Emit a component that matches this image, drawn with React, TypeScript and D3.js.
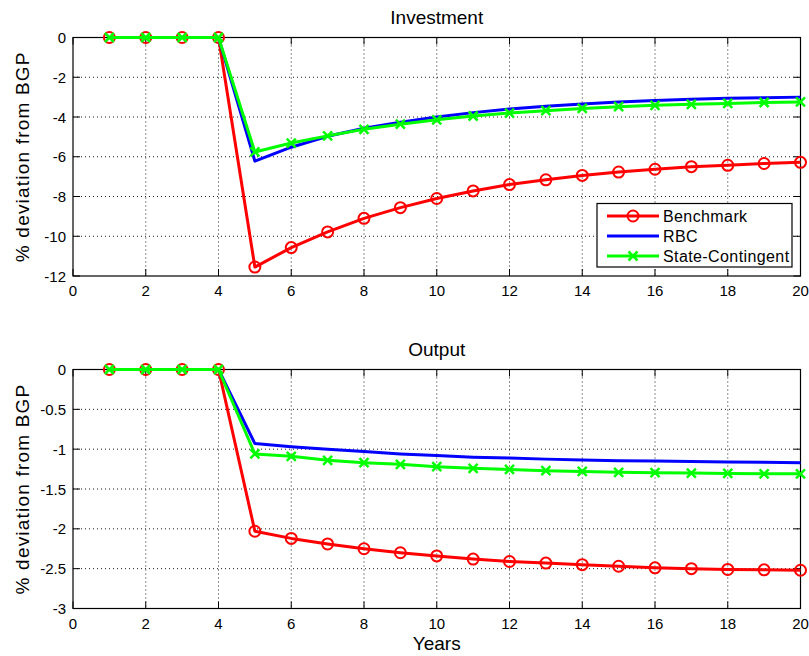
import React from "react";
import * as d3 from "d3";

const years = [1, 2, 3, 4, 5, 6, 7, 8, 9, 10, 11, 12, 13, 14, 15, 16, 17, 18, 19, 20];

const investBenchmark = [0, 0, 0, 0, -11.55, -10.57, -9.78, -9.1, -8.56, -8.1, -7.72, -7.4, -7.16, -6.94, -6.77, -6.63, -6.5, -6.43, -6.34, -6.28];
const investRBC = [0, 0, 0, 0, -6.22, -5.52, -4.97, -4.57, -4.26, -4.0, -3.78, -3.6, -3.46, -3.35, -3.25, -3.17, -3.11, -3.06, -3.03, -3.0];
const investSC = [0, 0, 0, 0, -5.76, -5.31, -4.95, -4.62, -4.36, -4.14, -3.95, -3.8, -3.68, -3.57, -3.48, -3.41, -3.36, -3.32, -3.27, -3.24];

const outputBenchmark = [0, 0, 0, 0, -2.03, -2.12, -2.19, -2.25, -2.3, -2.34, -2.38, -2.41, -2.43, -2.45, -2.47, -2.49, -2.5, -2.51, -2.515, -2.52];
const outputRBC = [0, 0, 0, 0, -0.93, -0.97, -1.0, -1.03, -1.06, -1.08, -1.1, -1.11, -1.125, -1.135, -1.145, -1.15, -1.155, -1.16, -1.165, -1.17];
const outputSC = [0, 0, 0, 0, -1.06, -1.09, -1.14, -1.17, -1.19, -1.22, -1.24, -1.255, -1.27, -1.28, -1.29, -1.295, -1.3, -1.305, -1.31, -1.31];

const xTicks = [0, 2, 4, 6, 8, 10, 12, 14, 16, 18, 20];
const investTicks = [0, -2, -4, -6, -8, -10, -12];
const outputTicks = [0, -0.5, -1, -1.5, -2, -2.5, -3];

const seriesNames = ["Benchmark", "RBC", "State-Contingent"];
const seriesColors = ["#ff0000", "#0000ff", "#00ff00"];
const seriesMarkers = ["circle", "none", "x"];

const FONT = "'Liberation Sans', Arial, Helvetica, sans-serif";
const LEFT = 73;
const RIGHT = 800.5;

function Marker({ type, x, y, color }: { type: string; x: number; y: number; color: string }) {
  if (type === "circle") {
    return <circle cx={x} cy={y} r={5.5} fill="none" stroke={color} strokeWidth={2} />;
  }
  if (type === "x") {
    const s = 4.5;
    return (
      <g stroke={color} strokeWidth={2.5}>
        <line x1={x - s} y1={y - s} x2={x + s} y2={y + s} />
        <line x1={x - s} y1={y + s} x2={x + s} y2={y - s} />
      </g>
    );
  }
  return null;
}

function Panel({
  top,
  bottom,
  domain,
  yTicks,
  series,
  title,
  showLegend,
  showXLabel,
}: {
  top: number;
  bottom: number;
  domain: [number, number];
  yTicks: number[];
  series: number[][];
  title: string;
  showLegend: boolean;
  showXLabel: boolean;
}) {
  const x = d3.scaleLinear().domain([0, 20]).range([LEFT, RIGHT]);
  const y = d3.scaleLinear().domain(domain).range([bottom, top]);
  const line = d3
    .line<number>()
    .x((_, i) => x(years[i]))
    .y((d) => y(d));
  const tl = 7;
  const fmt = (v: number) => String(v);
  return (
    <g>
      {/* grid */}
      <g stroke="#000" strokeWidth={0.9} strokeDasharray="1,3">
        {xTicks
          .filter((t) => t !== 0 && t !== 20)
          .map((t) => (
            <line key={"gx" + t} x1={x(t)} x2={x(t)} y1={top} y2={bottom} />
          ))}
        {yTicks
          .filter((t) => t !== domain[0] && t !== domain[1])
          .map((t) => (
            <line key={"gy" + t} x1={LEFT} x2={RIGHT} y1={y(t)} y2={y(t)} />
          ))}
      </g>
      {/* ticks */}
      <g stroke="#000" strokeWidth={1}>
        {xTicks.map((t) => (
          <g key={"tx" + t}>
            <line x1={x(t)} x2={x(t)} y1={bottom} y2={bottom - tl} />
            <line x1={x(t)} x2={x(t)} y1={top} y2={top + tl} />
          </g>
        ))}
        {yTicks.map((t) => (
          <g key={"ty" + t}>
            <line x1={LEFT} x2={LEFT + tl} y1={y(t)} y2={y(t)} />
            <line x1={RIGHT} x2={RIGHT - tl} y1={y(t)} y2={y(t)} />
          </g>
        ))}
      </g>
      <rect x={LEFT} y={top} width={RIGHT - LEFT} height={bottom - top} fill="none" stroke="#000" strokeWidth={1.2} />
      {/* tick labels */}
      <g fontFamily={FONT} fontSize={15} fill="#000">
        {xTicks.map((t) => (
          <text key={"lx" + t} x={x(t)} y={bottom + 20} textAnchor="middle">
            {fmt(t)}
          </text>
        ))}
        {yTicks.map((t) => (
          <text key={"ly" + t} x={LEFT - 7} y={y(t) + 5.5} textAnchor="end">
            {fmt(t)}
          </text>
        ))}
      </g>
      <text x={(LEFT + RIGHT) / 2} y={top - 13.5} textAnchor="middle" fontFamily={FONT} fontSize={19}>
        {title}
      </text>
      <text
        transform={`translate(28.5,${(top + bottom) / 2}) rotate(-90)`}
        textAnchor="middle"
        fontFamily={FONT}
        fontSize={19}
        letterSpacing={1.2}
      >
        % deviation from BGP
      </text>
      {showXLabel && (
        <text x={(LEFT + RIGHT) / 2} y={bottom + 41} textAnchor="middle" fontFamily={FONT} fontSize={19}>
          Years
        </text>
      )}
      {/* series */}
      {series.map((s, si) => (
        <g key={"s" + si}>
          <path d={line(s) || ""} fill="none" stroke={seriesColors[si]} strokeWidth={3} strokeLinejoin="round" />
          {s.map((v, i) => (
            <Marker key={i} type={seriesMarkers[si]} x={x(years[i])} y={y(v)} color={seriesColors[si]} />
          ))}
        </g>
      ))}
      {showLegend && (
        <g>
          <rect x={597} y={203.5} width={195} height={63.5} fill="#fff" stroke="#000" strokeWidth={1.2} />
          {seriesNames.map((n, i) => {
            const ly = 216 + i * 20;
            return (
              <g key={"lg" + i}>
                <line x1={607} x2={659} y1={ly} y2={ly} stroke={seriesColors[i]} strokeWidth={3} />
                <Marker type={seriesMarkers[i]} x={633} y={ly} color={seriesColors[i]} />
                <text x={663} y={ly + 5.5} fontFamily={FONT} fontSize={16} letterSpacing={0.4}>
                  {n}
                </text>
              </g>
            );
          })}
        </g>
      )}
    </g>
  );
}

export default function App() {
  return (
    <svg
      width={809}
      height={656}
      style={{ position: "absolute", left: 0, top: 0, background: "#fff" }}
    >
      <rect x={0} y={0} width={809} height={656} fill="#fff" />
      <Panel
        top={37.5}
        bottom={276}
        domain={[-12, 0]}
        yTicks={investTicks}
        series={[investBenchmark, investRBC, investSC]}
        title="Investment"
        showLegend={true}
        showXLabel={false}
      />
      <Panel
        top={369.5}
        bottom={608.5}
        domain={[-3, 0]}
        yTicks={outputTicks}
        series={[outputBenchmark, outputRBC, outputSC]}
        title="Output"
        showLegend={false}
        showXLabel={true}
      />
    </svg>
  );
}
